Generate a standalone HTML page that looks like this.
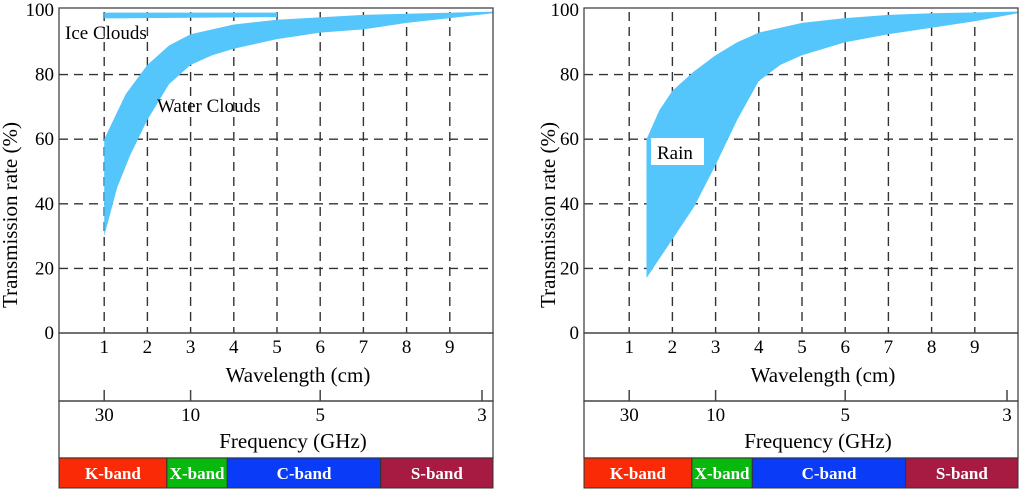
<!DOCTYPE html>
<html><head><meta charset="utf-8"><style>
body{margin:0;background:#fff}
svg{display:block;font-family:"Liberation Serif",serif}
</style></head><body>
<svg id="s" width="1024" height="496" viewBox="0 0 1024 496"></svg>
<script>
const wlTicks=[1,2,3,4,5,6,7,8,9];
const yTicks=[0,20,40,60,80,100];
const freqTicks=[30,10,5,3];
const bandNames=["K-band","X-band","C-band","S-band"];
const bandColors=["#fa2a06","#08b80c","#0a3cf8","#a71b42"];
const bandEdgesWl=[0,2.45,3.85,7.4,10];
const waterUpperX=[1,1.5,2,2.5,3,4,5,7,10];
const waterUpperY=[60,74,83,89,92.5,95.5,97,98.5,99.5];
const waterLowerX=[1,1.3,1.6,2,2.5,3,3.5,4,5,6,7,8,9,10];
const waterLowerY=[30,45,55,66,77,83,86,88,91,93,94,96,97.5,99];
const iceX=[1,5];
const iceUpper=[99.2,99.2];
const iceLower=[97.4,97.8];
const rainUpperX=[1.4,1.7,2,2.5,3,3.5,4,5,6,7,8,10];
const rainUpperY=[60,69,75,81,86,90,93,96,97.5,98.5,99,99.5];
const rainLowerX=[1.4,2,2.5,3,3.5,4,4.5,5,6,7,8,9,10];
const rainLowerY=[17,29,39,52,66,78,83,86,90,92.5,94.5,96.5,99];
const svg=document.getElementById('s');const NS="http://www.w3.org/2000/svg";
function mk(t,a,p){const e=document.createElementNS(NS,t);for(const k in a)e.setAttribute(k,a[k]);(p||svg).appendChild(e);return e;}
function panel(ox,bands){
 const L=ox+59,R=ox+493;
 const X=v=>ox+61+v*43.2;const Y=v=>333-v*3.23;
 const g=mk('g',{});
 yTicks.slice(1,5).forEach(v=>{const l=mk('line',{x1:L,x2:R,y1:Y(v),y2:Y(v),stroke:'#333','stroke-width':1.4,'stroke-dasharray':'9,6'},g);});
 wlTicks.forEach(v=>{const l=mk('line',{x1:X(v),x2:X(v),y1:Y(100)+2,y2:Y(0),stroke:'#333','stroke-width':1.4,'stroke-dasharray':'9,6'},g);});
 bands(X,Y,g);
 mk('rect',{x:L,y:8,width:R-L,height:Y(0)-8,fill:'none',stroke:'#444','stroke-width':1.3},g);
 mk('rect',{x:L,y:Y(0),width:R-L,height:401-Y(0),fill:'none',stroke:'#444','stroke-width':1.3},g);
 mk('rect',{x:L,y:401,width:R-L,height:57,fill:'none',stroke:'#444','stroke-width':1.3},g);
 yTicks.forEach(v=>{const t=mk('text',{x:L-5,y:Y(v)+6,'text-anchor':'end','font-size':19},g);t.textContent=v;});
 wlTicks.forEach(v=>{const t=mk('text',{x:X(v),y:353,'text-anchor':'middle','font-size':19},g);t.textContent=v;});
 freqTicks.forEach(f=>{const x=Math.min(X(30/f),R-11);mk('line',{x1:x,x2:x,y1:390,y2:401,stroke:'#444','stroke-width':1.5},g);const t=mk('text',{x:x,y:421,'text-anchor':'middle','font-size':19},g);t.textContent=f;});
 let t=mk('text',{x:ox+298,y:382,'text-anchor':'middle','font-size':21},g);t.textContent='Wavelength (cm)';
 t=mk('text',{x:ox+293,y:448,'text-anchor':'middle','font-size':21},g);t.textContent='Frequency (GHz)';
 t=mk('text',{x:0,y:0,'text-anchor':'middle','font-size':21,transform:`translate(${ox+(ox?30:17)},215) rotate(-90)`},g);t.textContent='Transmission rate (%)';
 for(let i=0;i<4;i++){const x1=X(bandEdgesWl[i]),x2=X(bandEdgesWl[i+1]);const a=i?x1:L,b=i==3?R:x2;
  const r=mk('rect',{x:a,y:458,width:b-a,height:30,fill:bandColors[i],stroke:'#333','stroke-width':1},g);
  const tt=mk('text',{x:(a+b)/2,y:479,'text-anchor':'middle','font-size':17,'font-weight':'bold',fill:'#fff'},g);tt.textContent=bandNames[i];}
}
function area(ux,uy,lx,ly,X,Y,g,name){
 let d='M'+ux.map((v,i)=>X(v)+','+Y(uy[i])).join('L');
 for(let i=lx.length-1;i>=0;i--)d+='L'+X(lx[i])+','+Y(ly[i]);
 const p=mk('path',{d:d+'Z',fill:'#55c6fb'},g);
}
panel(0,(X,Y,g)=>{
 area(waterUpperX,waterUpperY,waterLowerX,waterLowerY,X,Y,g,'water-clouds-band');
 area(iceX,iceUpper,iceX,iceLower,X,Y,g,'ice-clouds-band');
 let t=mk('text',{x:65,y:39,'font-size':19},g);t.textContent='Ice Clouds';
 t=mk('text',{x:157,y:112,'font-size':19},g);t.textContent='Water Clouds';
});
panel(525,(X,Y,g)=>{
 area(rainUpperX,rainUpperY,rainLowerX,rainLowerY,X,Y,g,'rain-band');
 mk('rect',{x:651,y:138,width:53,height:27,fill:'#fff'},g);
 const t=mk('text',{x:657,y:159,'font-size':19},g);t.textContent='Rain';
});
</script>
</body></html>
